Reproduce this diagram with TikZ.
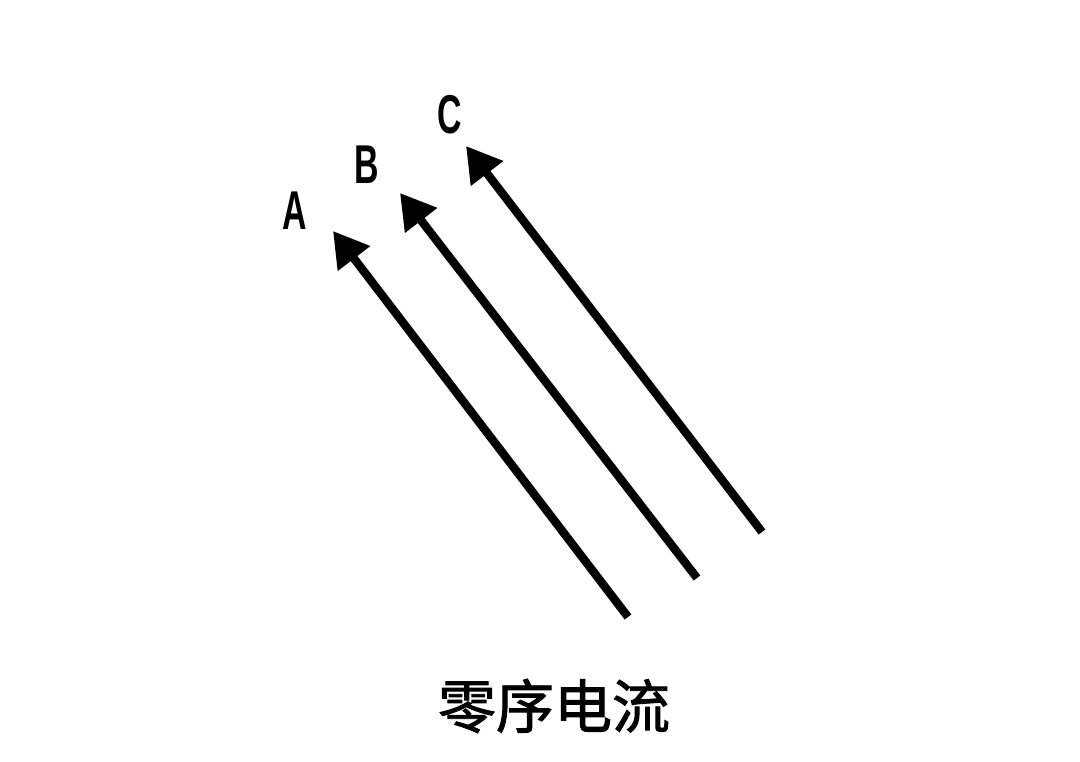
\documentclass[tikz,border=0pt]{standalone}
\usepackage{fontspec}
\setmainfont{Liberation Sans}
\newfontfamily\cjk[FakeBold=1.6]{Noto Sans CJK SC}
\usetikzlibrary{arrows.meta}
\begin{document}
\begin{tikzpicture}[x=0.75pt,y=-0.75pt,
  phasearrow/.style={line width=6.3pt,-{Triangle[length=26pt,width=29pt]}},
  phaselabel/.style={inner sep=0pt,font=\bfseries\fontsize{41}{41}\selectfont}]
\useasboundingbox (0,0) rectangle (1080,762);
\coordinate (a0) at (628,617);
\coordinate (a1) at (333,231);
\coordinate (b0) at (697,578);
\coordinate (b1) at (400,193);
\coordinate (c0) at (762,532);
\coordinate (c1) at (466,146);
\draw[phasearrow] (a0) -- (a1);
\draw[phasearrow] (b0) -- (b1);
\draw[phasearrow] (c0) -- (c1);
\node[phaselabel] (la) at (295,211) {\scalebox{0.62}[1]{A}};
\node[phaselabel] (lb) at (367,165) {\scalebox{0.62}[1]{B}};
\node[phaselabel] (lc) at (450,115) {\scalebox{0.62}[1]{C}};
\node[inner sep=0pt,font=\cjk\fontsize{43.5}{44}\selectfont] (title) at (554,706) {零序电流};
\end{tikzpicture}
\end{document}
